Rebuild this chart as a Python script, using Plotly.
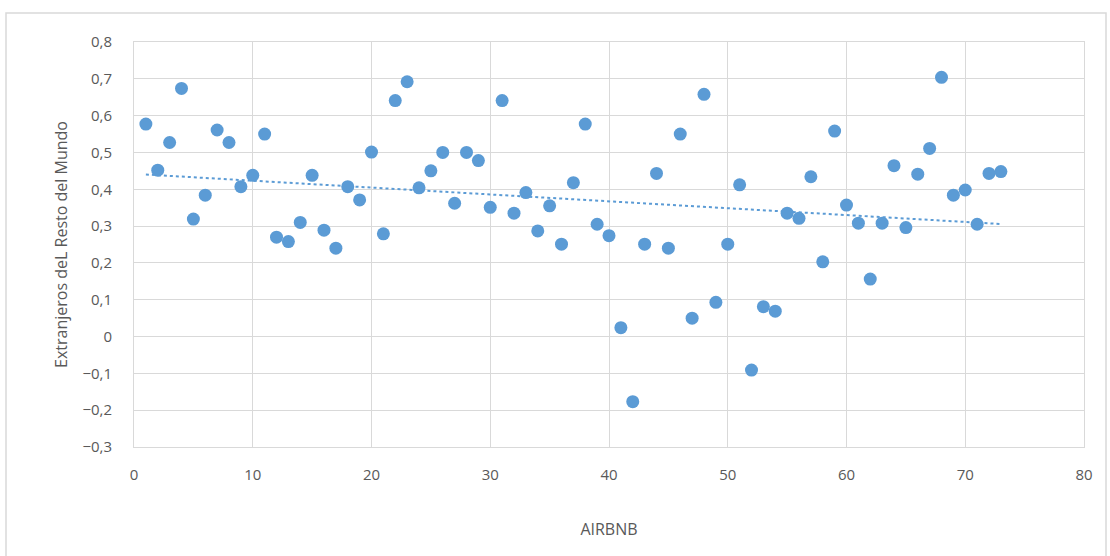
import numpy as np
import plotly.graph_objects as go

# Data
airbnb = list(range(1, 74))
extranjeros = [
    0.577, 0.452, 0.527, 0.674, 0.319, 0.384, 0.561, 0.527, 0.407, 0.438,
    0.550, 0.270, 0.258, 0.310, 0.438, 0.289, 0.240, 0.407, 0.371, 0.501,
    0.279, 0.641, 0.692, 0.404, 0.450, 0.500, 0.362, 0.500, 0.478, 0.351,
    0.641, 0.335, 0.391, 0.287, 0.355, 0.251, 0.418, 0.577, 0.305, 0.274,
    0.024, -0.177, 0.251, 0.443, 0.240, 0.550, 0.050, 0.658, 0.093, 0.251,
    0.412, -0.091, 0.081, 0.069, 0.335, 0.321, 0.434, 0.203, 0.558, 0.357,
    0.308, 0.156, 0.308, 0.464, 0.296, 0.441, 0.511, 0.704, 0.384, 0.398,
    0.305, 0.443, 0.448,
]
x_ticks = [0, 10, 20, 30, 40, 50, 60, 70, 80]
y_ticks = [-0.3, -0.2, -0.1, 0, 0.1, 0.2, 0.3, 0.4, 0.5, 0.6, 0.7, 0.8]

# Linear trendline (least squares, as in Excel)
slope, intercept = np.polyfit(airbnb, extranjeros, 1)
trend_x = [airbnb[0], airbnb[-1]]
trend_y = [slope * v + intercept for v in trend_x]

BLUE = "#5b9bd5"
GRID = "#d9d9d9"
TXT = "#595959"
FONT = "Open Sans"

fig = go.Figure()
fig.add_trace(go.Scatter(
    x=trend_x, y=trend_y, mode="lines",
    line=dict(color=BLUE, width=2, dash="dot"),
    hoverinfo="skip", showlegend=False,
))
fig.add_trace(go.Scatter(
    x=airbnb, y=extranjeros, mode="markers",
    marker=dict(color=BLUE, size=13, line=dict(width=0)),
    showlegend=False,
))

W, H = 1110, 556
L, R, T, B = 134, 26, 42, 109
pw, ph = W - L - R, H - T - B

def px_to_paper_x(px):
    return (px - L) / pw

def px_to_paper_y(py):
    return (H - B - py) / ph

fig.update_layout(
    width=W, height=H,
    margin=dict(l=L, r=R, t=T, b=B),
    paper_bgcolor="white", plot_bgcolor="white",
    separators=",.",
    font=dict(family=FONT, size=15, color=TXT),
    xaxis=dict(
        range=[0, 80], tickvals=x_ticks, showgrid=True, gridcolor=GRID, gridwidth=1,
        zeroline=False, showline=True, linecolor=GRID, linewidth=1, mirror=True,
        ticks="", ticklabelstandoff=14,
        title=dict(text="AIRBNB", font=dict(family=FONT, size=16, color=TXT), standoff=40),
    ),
    yaxis=dict(
        range=[-0.3, 0.8], tickvals=y_ticks, showgrid=True, gridcolor=GRID, gridwidth=1,
        zeroline=True, zerolinecolor=GRID, zerolinewidth=1,
        showline=True, linecolor=GRID, linewidth=1, mirror=True,
        ticks="", ticklabelstandoff=18,
        title=dict(text="Extranjeros deL Resto del Mundo", font=dict(family=FONT, size=16, color=TXT), standoff=10),
    ),
    shapes=[dict(
        type="rect", xref="paper", yref="paper",
        x0=px_to_paper_x(6), x1=px_to_paper_x(1106),
        y0=px_to_paper_y(600), y1=px_to_paper_y(13),
        line=dict(color="#d9d9d9", width=1.5), fillcolor="rgba(0,0,0,0)", layer="below",
    )],
)

fig.write_html("out.html", config={"displayModeBar": False},
               post_script="document.body.style.margin='0px';")
